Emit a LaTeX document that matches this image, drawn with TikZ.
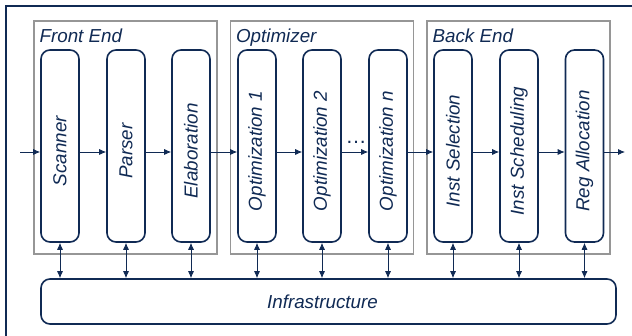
\documentclass[tikz,border=0pt]{standalone}
\usepackage{fontspec}
\setmainfont{Liberation Sans}
\usetikzlibrary{calc, arrows.meta}

\definecolor{navy}{RGB}{16,42,84}
\definecolor{boxgray}{RGB}{150,150,150}

\tikzset{
	stage/.style={draw=navy, line width=1.6pt, rounded corners=9pt, rotate=90,
		minimum width=192pt, minimum height=38pt, inner sep=0pt, text=navy,
		font=\fontsize{18.8}{22}\selectfont\itshape, execute at end node=\hspace*{10pt}},
	group/.style={draw=boxgray, line width=1.3pt, minimum width=183pt, minimum height=233pt, inner sep=0pt},
	grouptitle/.style={anchor=base west, inner sep=0pt, text=navy, font=\fontsize{18.8}{22}\selectfont\itshape},
	flow/.style={navy, line width=0.8pt, -{Latex[length=7pt, width=6pt]}},
	dual/.style={navy, line width=0.8pt, {Latex[length=7pt, width=6pt]}-{Latex[length=7pt, width=6pt]}}
}

\begin{document}
\begin{tikzpicture}[x=1pt, y=-1pt]
			\useasboundingbox (0,0) rectangle (632,336);
			\def\stagey{146};
			\def\flowy{152};

			% outer frame
			\draw[navy, line width=1.1pt] (6,336) -- (6,6) -- (632,6);

			\begin{scope}
				\node[group] (front) at (125.5,137.5) {};
				\node[group] (optim) at (322,137.5) {};
				\node[group] (back) at (518.5,137.5) {};

				\node[grouptitle] (front title) at ($ (front.north west) + (6,22) $) {Front End};
				\node[grouptitle] (optim title) at ($ (optim.north west) + (6,22) $) {Optimizer};
				\node[grouptitle] (back title) at ($ (back.north west) + (6,22) $) {Back End};
			\end{scope}

			\begin{scope}
				\node[stage] (scanner) at (60,\stagey) {Scanner};
				\node[stage] (parser) at (126,\stagey) {Parser};
				\node[stage] (elab) at (191,\stagey) {Elaboration};
				\node[stage] (opt one) at (257,\stagey) {Optimization 1};
				\node[stage] (opt two) at (322,\stagey) {Optimization 2};
				\node[stage] (opt n) at (388,\stagey) {Optimization \textit{n}};
				\node[stage] (inst sel) at (453,\stagey) {Inst Selection};
				\node[stage] (inst sched) at (519,\stagey) {Inst Scheduling};
				\node[stage] (reg alloc) at (584.5,\stagey) {Reg Allocation};
			\end{scope}

			\node[draw=navy, line width=1.6pt, rounded corners=9pt, minimum width=575pt, minimum height=45pt,
				text=navy, font=\fontsize{18.8}{22}\selectfont\itshape, execute at end node=\hspace*{12pt}]
				(infra) at (328.5,301.5) {Infrastructure};

			\node[text=navy, font=\fontsize{21}{24}\selectfont, anchor=base, inner sep=0pt] (dots) at (356,144) {\ldots};

			\coordinate (input) at (20,\flowy);
			\coordinate (output) at (625,\flowy);

			% pipeline
			\draw[flow] (input) -- (input -| scanner.north);
			\draw[flow] (scanner.south |- input) -- (parser.north |- input);
			\draw[flow] (parser.south |- input) -- (elab.north |- input);
			\draw[flow] (elab.south |- input) -- (opt one.north |- input);
			\draw[flow] (opt one.south |- input) -- (opt two.north |- input);
			\draw[flow] (opt two.south |- input) -- (opt n.north |- input);
			\draw[flow] (opt n.south |- input) -- (inst sel.north |- input);
			\draw[flow] (inst sel.south |- input) -- (inst sched.north |- input);
			\draw[flow] (inst sched.south |- input) -- (reg alloc.north |- input);
			\draw[flow] (reg alloc.south |- input) -- (output);

			% links to infrastructure
			\draw[dual] (scanner.west) -- (scanner.west |- infra.north);
			\draw[dual] (parser.west) -- (parser.west |- infra.north);
			\draw[dual] (elab.west) -- (elab.west |- infra.north);
			\draw[dual] (opt one.west) -- (opt one.west |- infra.north);
			\draw[dual] (opt two.west) -- (opt two.west |- infra.north);
			\draw[dual] (opt n.west) -- (opt n.west |- infra.north);
			\draw[dual] (inst sel.west) -- (inst sel.west |- infra.north);
			\draw[dual] (inst sched.west) -- (inst sched.west |- infra.north);
			\draw[dual] (reg alloc.west) -- (reg alloc.west |- infra.north);
		\end{tikzpicture}
\end{document}
